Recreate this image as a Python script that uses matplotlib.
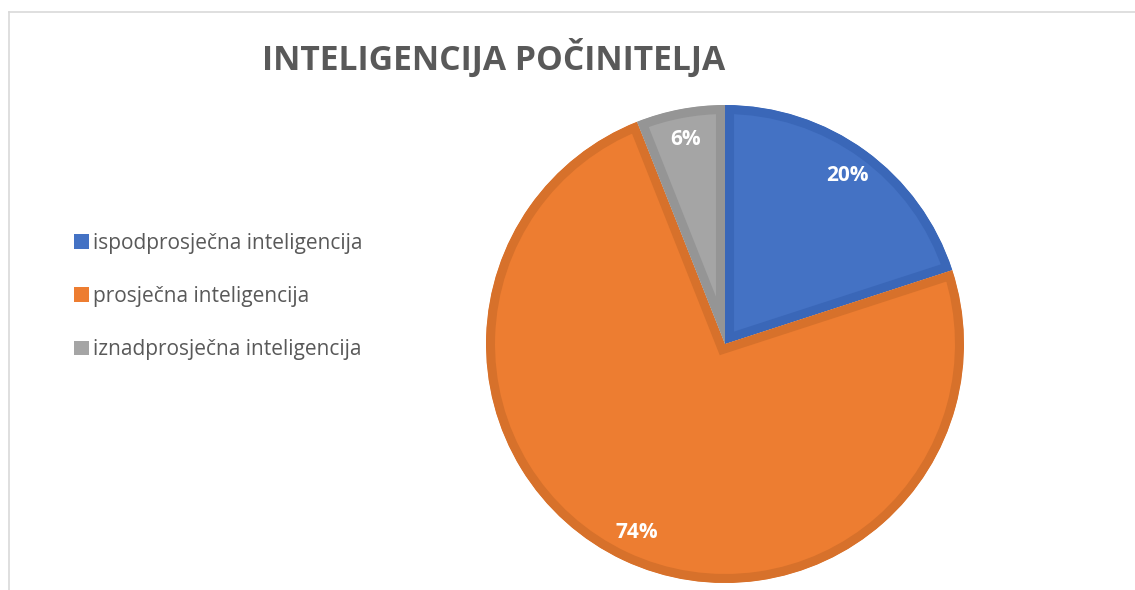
import matplotlib.pyplot as plt
from matplotlib.lines import Line2D
from matplotlib.patches import Patch

plt.rcParams['font.family'] = ['Open Sans', 'DejaVu Sans']

categories = ['ispodprosječna inteligencija', 'prosječna inteligencija', 'iznadprosječna inteligencija']
values = [20, 74, 6]
colors = ['#4472C4', '#ED7D31', '#A5A5A5']
edges = ['#3A67B8', '#D7712B', '#959595']

W, H = 1135, 590
fig = plt.figure(figsize=(W / 100, H / 100), dpi=100)

# pie centre and radius in pixels
cx, cy, r = 725, 344, 239
ax = fig.add_axes([(cx - r) / W, (H - cy - r) / H, 2 * r / W, 2 * r / H])
wedges, texts, autotexts = ax.pie(values, colors=colors, startangle=90, counterclock=False,
                                  autopct='%.0f%%', pctdistance=0.87,
                                  wedgeprops=dict(linewidth=13))
for w, ec in zip(wedges, edges):
    w.set_edgecolor(ec)
    w.set_clip_on(True)
    w.set_clip_path(w)  # keep the stroke inside the slice
for t in autotexts:
    t.set_color('white')
    t.set_fontsize(15)
    t.set_fontweight('bold')
ax.set_xlim(-1, 1)
ax.set_ylim(-1, 1)
ax.set_aspect('equal')

fig.text(494 / W, 1 - 58 / H, 'INTELIGENCIJA POČINITELJA', ha='center', va='center',
         fontsize=24.2, fontweight='bold', color='#595959')

handles = [Patch(facecolor=c, edgecolor='none') for c in colors]
fig.legend(handles, categories, loc='upper left', bbox_to_anchor=(55 / W, 1 - 214 / H),
           frameon=False, fontsize=15, labelcolor='#595959', handlelength=0.72, handleheight=0.72,
           handletextpad=0.2, labelspacing=1.55)

# chart area border (left and top)
fig.add_artist(Line2D([9 / W, 9 / W], [0, 1 - 12 / H], color='#D9D9D9', lw=1.2))
fig.add_artist(Line2D([9 / W, 1], [1 - 12 / H, 1 - 12 / H], color='#D9D9D9', lw=1.2))

fig.savefig('out.png', dpi=100)
